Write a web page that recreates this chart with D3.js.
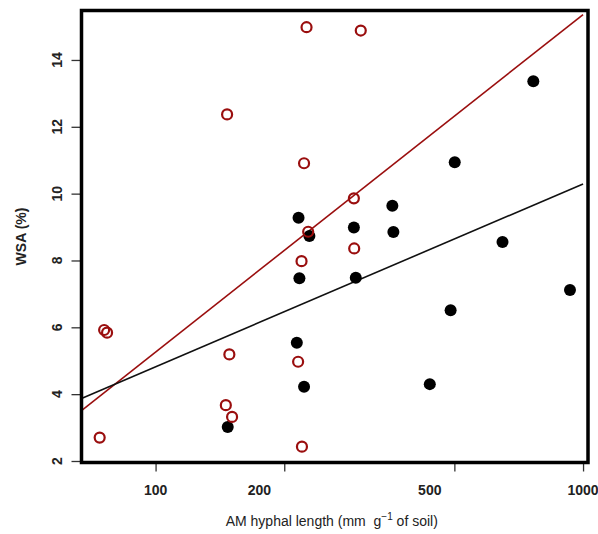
<!DOCTYPE html>
<html>
<head>
<meta charset="utf-8">
<script src="https://cdn.jsdelivr.net/npm/d3@7"></script>
<style>
  body { margin: 0; background: #fff; }
  text { font-family: "Liberation Sans", Arial, sans-serif; }
</style>
</head>
<body>
<div id="chart"></div>
<script>
// Data
// filled black points (hyphal length, WSA %)
var blackX = [147.5, 216, 229, 291, 358, 360, 217, 294, 214, 222.5, 765, 501, 648, 932, 490, 438];
var blackY = [3.02, 9.28, 8.73, 8.99, 9.64, 8.85, 7.47, 7.48, 5.54, 4.22, 13.36, 10.94, 8.55, 7.12, 6.51, 4.30];
// open red circles
var redX = [225.5, 302, 147, 222.5, 291, 227.5, 291.5, 219.5, 75.8, 77.0, 148.8, 215.5, 146, 151, 74.0, 220];
var redY = [14.98, 14.88, 12.37, 10.91, 9.86, 8.86, 8.36, 7.98, 5.92, 5.84, 5.19, 4.97, 3.67, 3.32, 2.70, 2.43];
// regression lines: WSA = a + b * log10(length)
var blackFit = [-6.12, 5.47];
var redFit = [-14.94, 10.10];

var xTicks = [100, 200, 500, 1000];
var xTickLabels = ['100', '200', '500', '1000'];
var xLabelAt = [100, 175, 438, 1000]; // labels sit off the ticks in the original
var yTicks = [2, 4, 6, 8, 10, 12, 14];

var width = 598, height = 534;
var margin = { top: 10.5, right: 10, bottom: 71.5, left: 81.5 };
var innerW = width - margin.left - margin.right;
var innerH = height - margin.top - margin.bottom;

var darkRed = '#9a0e0e';

var x = d3.scaleLog()
  .domain([67.1, 1027])
  .range([0, innerW]);

var y = d3.scaleLinear()
  .domain([1.955, 15.48])
  .range([innerH, 0]);

var svg = d3.select('#chart')
  .append('svg')
  .attr('width', width)
  .attr('height', height);

var g = svg.append('g')
  .attr('transform', 'translate(' + margin.left + ',' + margin.top + ')');

g.append('clipPath')
  .attr('id', 'clip')
  .append('rect')
  .attr('width', innerW)
  .attr('height', innerH);

// axes (ticks only, labels added by hand below)
var xAxis = g.append('g')
  .attr('transform', 'translate(0,' + innerH + ')')
  .call(d3.axisBottom(x).tickValues(xTicks).tickSize(9).tickFormat(''));

var yAxis = g.append('g')
  .call(d3.axisLeft(y).tickValues(yTicks).tickSize(10).tickFormat(''));

[xAxis, yAxis].forEach(function (a) {
  a.select('.domain').remove();
  a.selectAll('line').attr('stroke', '#333').attr('stroke-width', 1.3);
});

// x tick labels
g.selectAll('.xlab')
  .data(xTickLabels)
  .enter().append('text')
  .attr('class', 'xlab')
  .attr('x', function (d, i) { return x(xLabelAt[i]); })
  .attr('y', innerH + 32)
  .attr('text-anchor', 'middle')
  .attr('font-size', 14)
  .attr('font-weight', 'bold')
  .attr('fill', '#222')
  .text(function (d) { return d; });

// y tick labels, rotated like base R
g.selectAll('.ylab')
  .data(yTicks)
  .enter().append('text')
  .attr('class', 'ylab')
  .attr('transform', function (d) { return 'translate(' + (-19.5) + ',' + y(d) + ') rotate(-90)'; })
  .attr('text-anchor', 'middle')
  .attr('font-size', 14)
  .attr('font-weight', 'bold')
  .attr('fill', '#222')
  .text(function (d) { return d; });

// regression lines, from the left edge of the plot up to the last tick
var fitRange = [x.domain()[0], xTicks[xTicks.length - 1]];
var lineGen = d3.line()
  .x(function (d) { return x(d); });

function drawFit(fit, color) {
  g.append('path')
    .datum(fitRange)
    .attr('clip-path', 'url(#clip)')
    .attr('d', lineGen.y(function (d) { return y(fit[0] + fit[1] * Math.log10(d)); }))
    .attr('fill', 'none')
    .attr('stroke', color)
    .attr('stroke-width', 1.6);
}
drawFit(redFit, darkRed);
drawFit(blackFit, '#111');

// black filled points
g.selectAll('.pt-black')
  .data(blackX)
  .enter().append('circle')
  .attr('class', 'pt-black')
  .attr('cx', function (d) { return x(d); })
  .attr('cy', function (d, i) { return y(blackY[i]); })
  .attr('r', 6)
  .attr('fill', '#000');

// red open points
g.selectAll('.pt-red')
  .data(redX)
  .enter().append('circle')
  .attr('class', 'pt-red')
  .attr('cx', function (d) { return x(d); })
  .attr('cy', function (d, i) { return y(redY[i]); })
  .attr('r', 5)
  .attr('fill', 'none')
  .attr('stroke', darkRed)
  .attr('stroke-width', 2.2);

// plot frame
g.append('rect')
  .attr('width', innerW)
  .attr('height', innerH)
  .attr('fill', 'none')
  .attr('stroke', '#000')
  .attr('stroke-width', 3.5);

// axis titles
var xTitle = svg.append('text')
  .attr('x', margin.left + innerW / 2 - 3)
  .attr('y', 526)
  .attr('text-anchor', 'middle')
  .attr('font-size', 14)
  .attr('fill', '#222');
xTitle.append('tspan').text('AM hyphal length (mm\u00a0\u00a0g');
xTitle.append('tspan').attr('dy', -6).attr('font-size', 10).text('\u22121');
xTitle.append('tspan').attr('dy', 6).text(' of soil)');

svg.append('text')
  .attr('transform', 'translate(' + 26 + ',' + (margin.top + innerH / 2) + ') rotate(-90)')
  .attr('text-anchor', 'middle')
  .attr('font-size', 14)
  .attr('font-weight', 'bold')
  .attr('fill', '#222')
  .text('WSA (%)');
</script>
</body>
</html>
